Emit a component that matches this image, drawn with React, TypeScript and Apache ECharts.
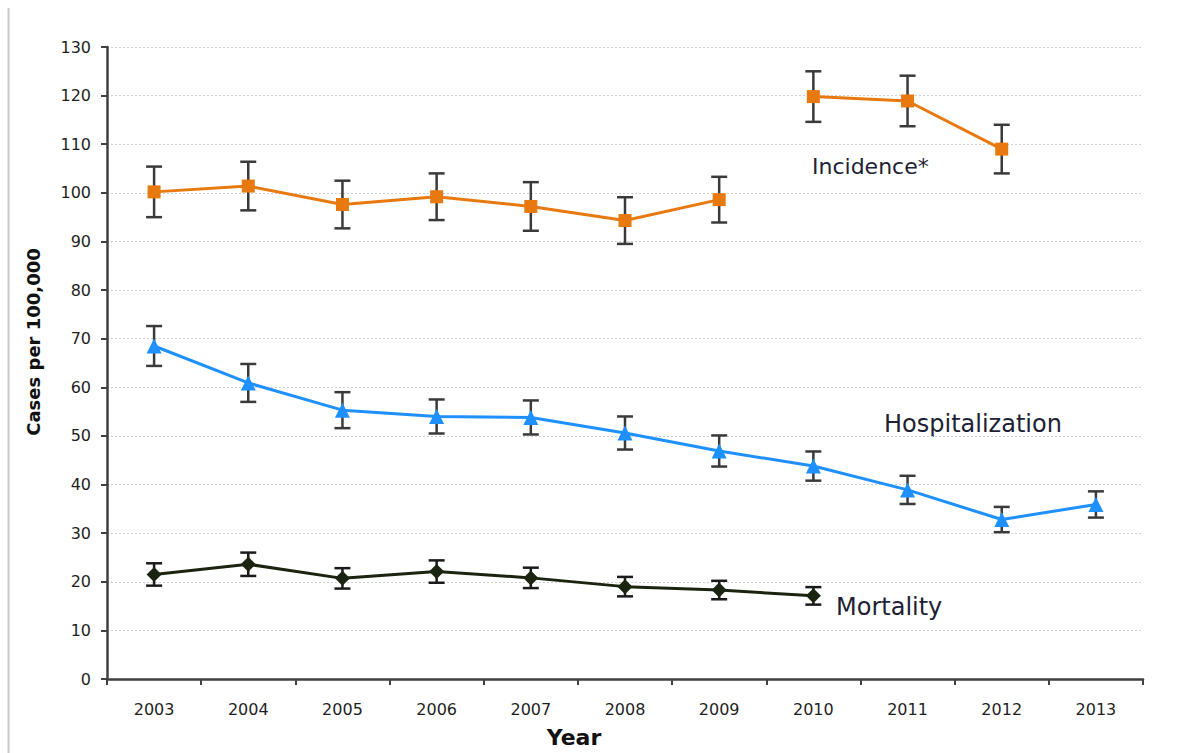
import React, { useEffect, useRef } from "react";
import * as echarts from "echarts";

const years = ["2003", "2004", "2005", "2006", "2007", "2008", "2009", "2010", "2011", "2012", "2013"];
const incidenceEarly = [100.2, 101.4, 97.6, 99.2, 97.2, 94.3, 98.6, null, null, null, null];
const incidenceLate = [null, null, null, null, null, null, null, 119.8, 118.9, 109.0, null];
const incidenceErr = [5.2, 5.0, 4.9, 4.8, 5.0, 4.8, 4.7, 5.2, 5.2, 5.0, null];
const hospitalization = [68.5, 60.9, 55.3, 54.0, 53.8, 50.6, 46.9, 43.8, 38.9, 32.8, 35.9];
const hospitalizationErr = [4.1, 3.9, 3.7, 3.5, 3.5, 3.4, 3.2, 3.0, 2.9, 2.6, 2.7];
const mortality = [21.5, 23.6, 20.7, 22.1, 20.8, 19.0, 18.3, 17.1, null, null, null];
const mortalityErr = [2.3, 2.4, 2.1, 2.3, 2.1, 2.0, 1.9, 1.8, null, null, null];

const yTicks = { min: 0, max: 130, interval: 10 };

const ORANGE = "#E8790F";
const BLUE = "#1E90FF";
const DARK = "#1B2410";
const ERR = "#3a3a3a";

function errorData(vals: (number | null)[], errs: (number | null)[]) {
  const out: any[] = [];
  vals.forEach((v, i) => {
    const e = errs[i];
    if (v != null && e != null) out.push([i, v - e, v + e]);
  });
  return out;
}

function errorSeries(vals: (number | null)[], errs: (number | null)[], color: string) {
  return {
    type: "custom",
    z: 1,
    data: errorData(vals, errs),
    renderItem: (params: any, api: any) => {
      const x = api.value(0);
      const lo = api.coord([x, api.value(1)]);
      const hi = api.coord([x, api.value(2)]);
      const w = 8;
      const style = { stroke: color, lineWidth: 2.5 };
      return {
        type: "group",
        children: [
          { type: "line", shape: { x1: lo[0], y1: lo[1], x2: hi[0], y2: hi[1] }, style },
          { type: "line", shape: { x1: lo[0] - w, y1: lo[1], x2: lo[0] + w, y2: lo[1] }, style },
          { type: "line", shape: { x1: hi[0] - w, y1: hi[1], x2: hi[0] + w, y2: hi[1] }, style },
        ],
      };
    },
  };
}

function lineSeries(name: string, data: (number | null)[], color: string, symbol: string, size: number) {
  return {
    name,
    type: "line",
    z: 3,
    data: data.map((v) => (v == null ? "-" : v)),
    symbol,
    symbolSize: size,
    showSymbol: true,
    connectNulls: false,
    lineStyle: { color, width: 3 },
    itemStyle: { color },
  };
}

export default function App() {
  const ref = useRef<HTMLDivElement>(null);
  useEffect(() => {
    if (!ref.current) return;
    const chart = echarts.init(ref.current, null, { renderer: "svg" });
    const labelFont = "DejaVu Sans";
    const textStyle = { fontFamily: "DejaVu Sans", fill: "#1c2233", verticalAlign: "middle" };
    chart.setOption({
      animation: false,
      backgroundColor: "#ffffff",
      grid: { left: 107, right: 42, top: 47, bottom: 74, containLabel: false },
      xAxis: {
        type: "category",
        data: years,
        boundaryGap: true,
        axisLine: { lineStyle: { color: "#404040", width: 2.5 } },
        axisTick: { show: true, alignWithLabel: false, length: 6, lineStyle: { color: "#404040", width: 2 } },
        axisLabel: { color: "#1f1f1f", fontSize: 16, fontFamily: labelFont, margin: 22 },
        splitLine: { show: false },
      },
      yAxis: {
        type: "value",
        min: yTicks.min,
        max: yTicks.max,
        interval: yTicks.interval,
        axisLine: { show: true, lineStyle: { color: "#404040", width: 2.5 } },
        axisTick: { show: true, inside: false, length: 6, lineStyle: { color: "#404040", width: 2 } },
        axisLabel: { color: "#1f1f1f", fontSize: 16, fontFamily: labelFont, margin: 16 },
        splitLine: { show: true, lineStyle: { color: "#d0d0d0", type: [2, 2], width: 1 } },
      },
      series: [
        errorSeries(incidenceEarly.map((v, i) => (v != null ? v : incidenceLate[i])), incidenceErr, ERR),
        errorSeries(hospitalization, hospitalizationErr, ERR),
        errorSeries(mortality, mortalityErr, "#1a1a1a"),
        lineSeries("Incidence", incidenceEarly, ORANGE, "rect", 13),
        lineSeries("Incidence (2010+)", incidenceLate, ORANGE, "rect", 13),
        lineSeries("Hospitalization", hospitalization, BLUE, "triangle", 15),
        lineSeries("Mortality", mortality, DARK, "diamond", 15),
      ],
      graphic: [
        { type: "line", shape: { x1: 8.5, y1: 8, x2: 8.5, y2: 753 }, style: { stroke: "#c8c8c8", lineWidth: 2 } },
        { type: "text", x: 812, y: 166, style: { ...textStyle, text: "Incidence*", fontSize: 22 } },
        { type: "text", x: 884, y: 424, style: { ...textStyle, text: "Hospitalization", fontSize: 24 } },
        { type: "text", x: 836, y: 607, style: { ...textStyle, text: "Mortality", fontSize: 24 } },
        { type: "text", x: 574, y: 737, style: { text: "Year", fontSize: 22, fontWeight: "bold", fontFamily: "DejaVu Sans", fill: "#111", align: "center", verticalAlign: "middle" } },
        { type: "text", x: 33, y: 342, rotation: Math.PI / 2, style: { text: "Cases per 100,000", fontSize: 18, fontWeight: "bold", fontFamily: "DejaVu Sans", fill: "#111", align: "center", verticalAlign: "middle" } },
      ],
    });
    return () => chart.dispose();
  }, []);
  return <div ref={ref} style={{ position: "absolute", left: 0, top: 0, width: 1185, height: 753 }} />;
}
